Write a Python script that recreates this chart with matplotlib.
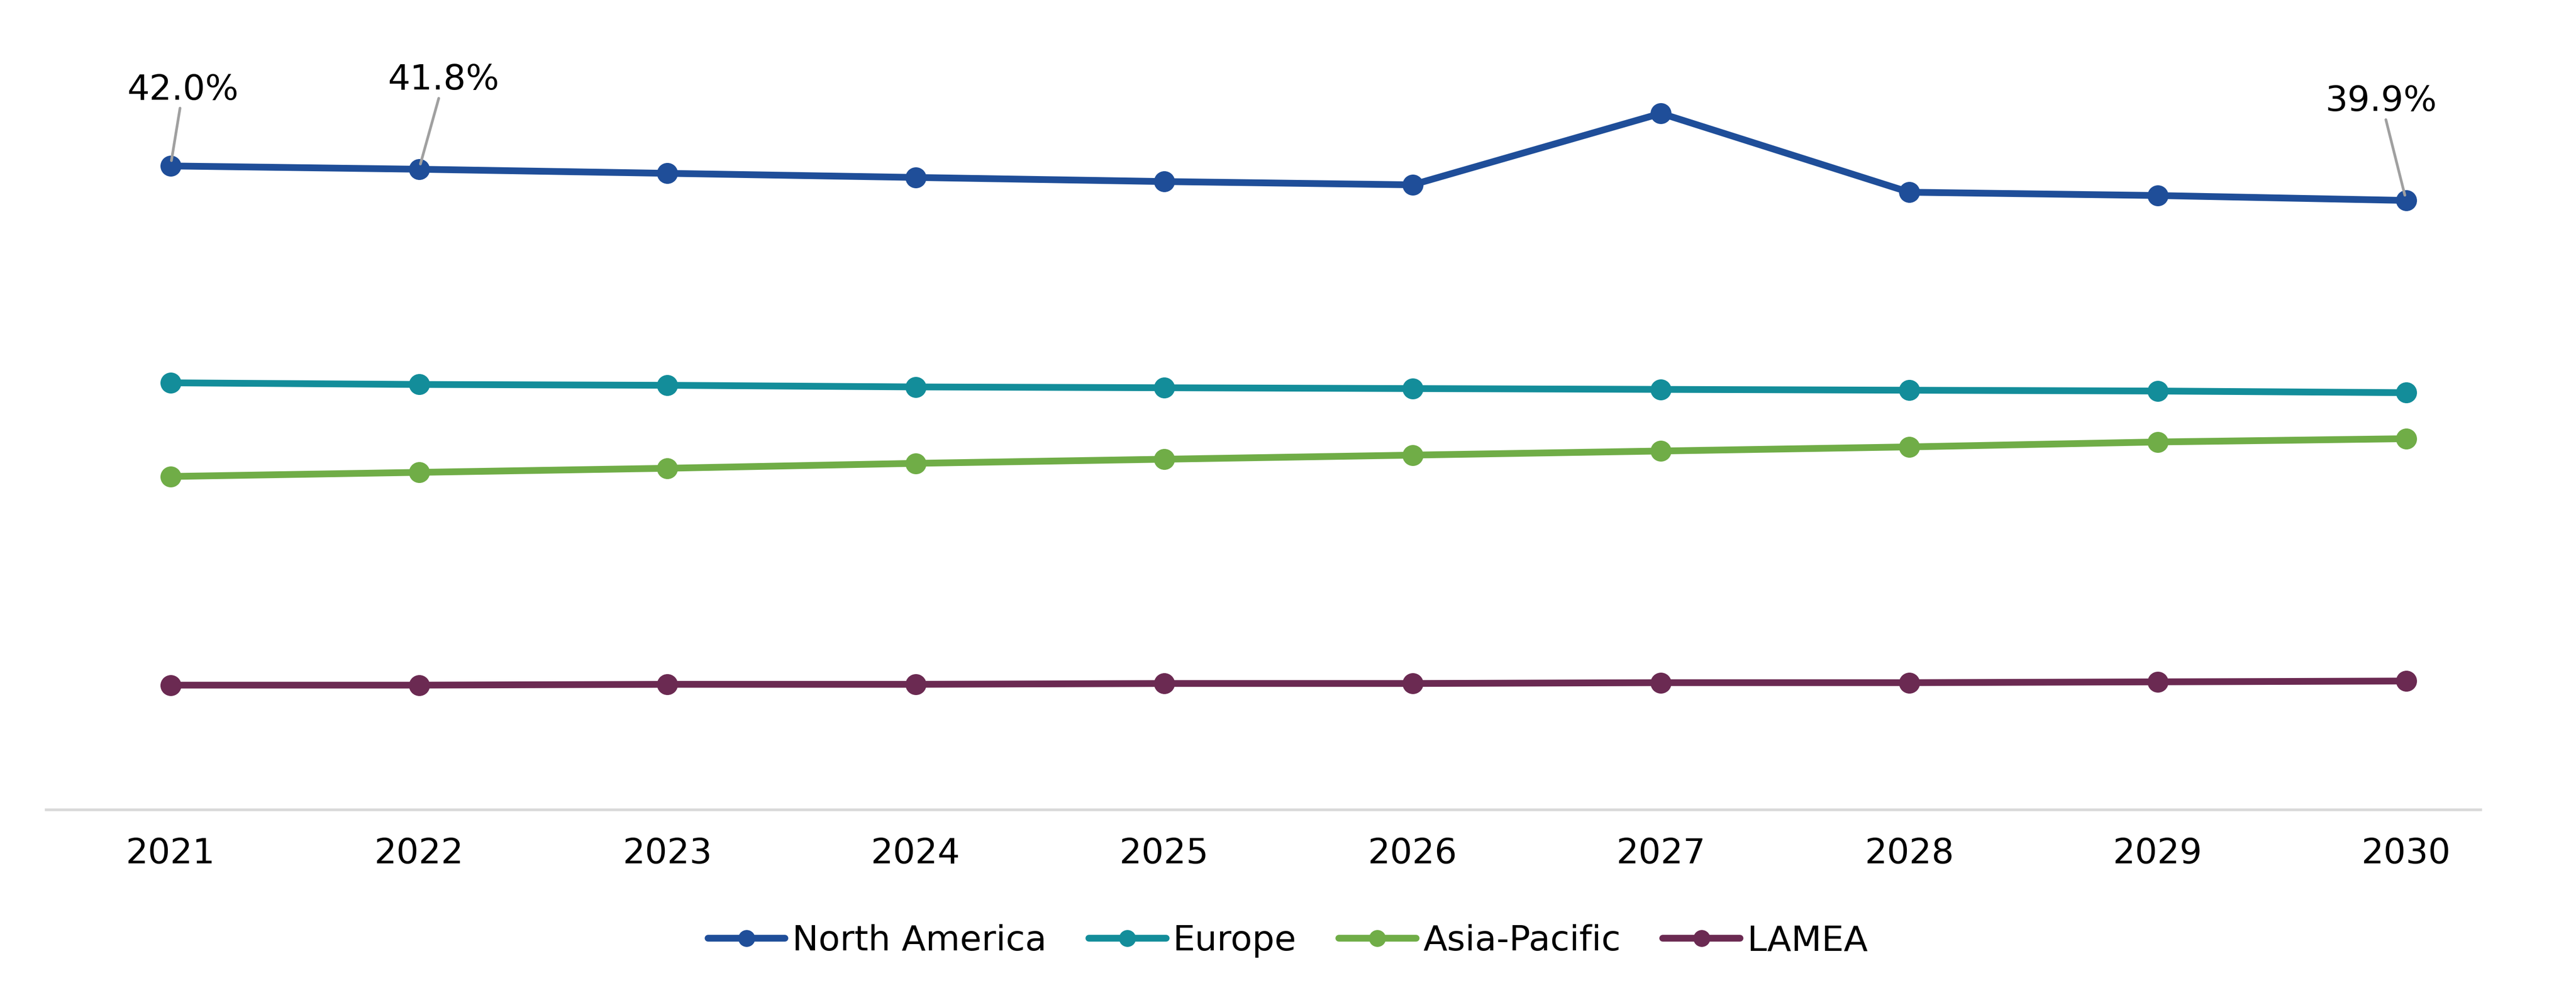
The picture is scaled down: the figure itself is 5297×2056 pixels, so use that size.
import matplotlib.pyplot as plt

years = [2021, 2022, 2023, 2024, 2025, 2026, 2027, 2028, 2029, 2030]
north_america = [42.0, 41.8, 41.55, 41.3, 41.05, 40.85, 45.2, 40.4, 40.2, 39.9]
europe = [28.8, 28.7, 28.65, 28.55, 28.5, 28.45, 28.4, 28.35, 28.3, 28.2]
asia_pacific = [23.1, 23.35, 23.6, 23.9, 24.15, 24.4, 24.65, 24.9, 25.2, 25.4]
lamea = [10.4, 10.4, 10.45, 10.45, 10.5, 10.5, 10.55, 10.55, 10.6, 10.65]

series = [
    ("North America", north_america, "#1F4E99"),
    ("Europe", europe, "#138D9A"),
    ("Asia-Pacific", asia_pacific, "#70AD47"),
    ("LAMEA", lamea, "#6B2A52"),
]

# labelled points: (index, text x, text y)
labels = [(0, 2021.05, 45.6), (1, 2022.1, 46.2), (9, 2029.9, 44.9)]

fig = plt.figure(figsize=(52.97, 20.56), dpi=100)
ax = fig.add_axes([0.018, 0.19, 0.945, 0.81])

for name, vals, color in series:
    ax.plot(years, vals, color=color, lw=10, marker="o", ms=30,
            solid_capstyle="round", label=name)

for i, tx, ty in labels:
    ax.annotate(f"{north_america[i]:.1f}%", xy=(years[i], north_america[i]),
                xytext=(tx, ty), ha="center", va="bottom", fontsize=52,
                arrowprops=dict(arrowstyle="-", color="#A0A0A0", lw=4,
                                shrinkA=0, shrinkB=8))

ax.set_xlim(2020.5, 2030.3)
ax.set_ylim(2.8, 52.1)
ax.set_xticks(years)
ax.set_xticklabels([str(y) for y in years], fontsize=52)
ax.set_yticks([])
ax.tick_params(axis="x", length=0, pad=40)
for s in ["top", "right", "left"]:
    ax.spines[s].set_visible(False)
ax.spines["bottom"].set_color("#D9D9D9")
ax.spines["bottom"].set_linewidth(4)

fig.legend(loc="center", bbox_to_anchor=(0.5, 0.059), ncol=4, frameon=False,
           fontsize=52, handlelength=2.2, handletextpad=0.2, columnspacing=1.2,
           markerscale=0.8)

fig.savefig("out.png", dpi=100)
plt.close(fig)
